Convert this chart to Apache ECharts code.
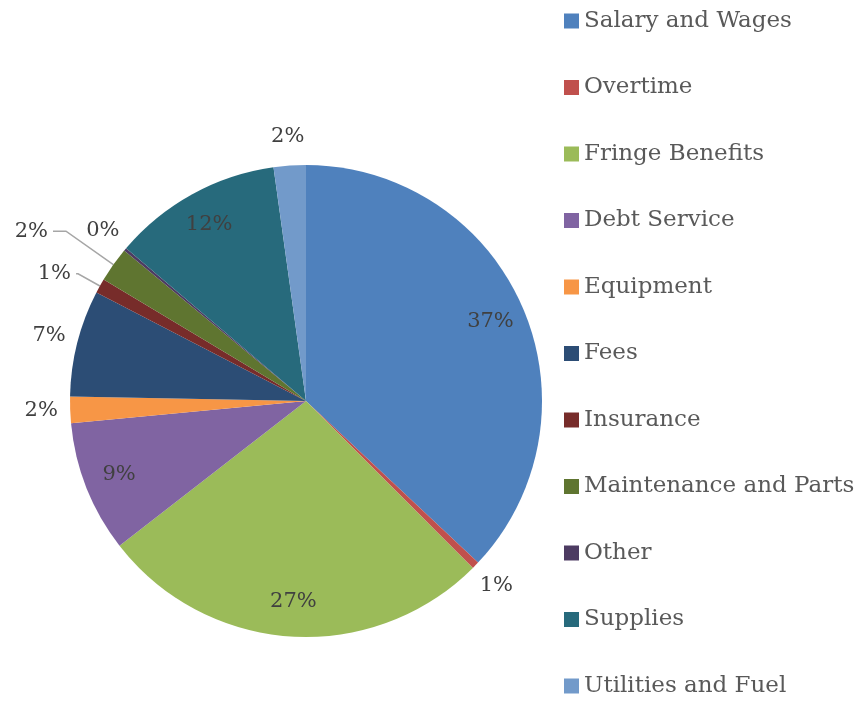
<!DOCTYPE html>
<html>
<head>
<meta charset="utf-8">
<script src="https://cdn.jsdelivr.net/npm/echarts@6/dist/echarts.min.js"></script>
<style>
    html, body { margin: 0; padding: 0; background: #fff; }
    #pieChart { width: 859px; height: 701px; }
</style>
</head>
<body>
<div id="pieChart"></div>
<script>
// share of spending (percent)
const categories = ['Salary and Wages', 'Overtime', 'Fringe Benefits', 'Debt Service', 'Equipment',
    'Fees', 'Insurance', 'Maintenance and Parts', 'Other', 'Supplies', 'Utilities and Fuel'];
const values = [37.0, 0.5, 27.0, 9.0, 1.8, 7.3, 1.0, 2.4, 0.2, 11.6, 2.2];
const colors = ['#4F81BD', '#C0504D', '#9BBB59', '#8064A2', '#F79646',
    '#2C4D75', '#772C2A', '#5F7530', '#4D3B62', '#276A7C', '#729ACA'];
// where each label sits: in = inside slice, out = just outside, line = with leader line
const labelPlace = ['in', 'out', 'in', 'in', 'out', 'out', 'line', 'line', 'out', 'in', 'out'];

const center = [306, 401];
const R = 236;
const labelFont = { fontFamily: 'DejaVu Serif', fontSize: 21, color: '#404040' };
const pct = p => Math.round(p.percent) + '%';

const pieChart = echarts.init(document.getElementById('pieChart'));

// transparent ring used only to carry labels
function labelRing(radius, kind) {
    return {
        type: 'pie',
        radius: radius,
        center: center,
        silent: true,
        avoidLabelOverlap: false,
        itemStyle: { color: 'transparent', borderWidth: 0 },
        labelLine: { show: false },
        emphasis: { disabled: true },
        data: categories.map((name, i) => ({
            name: name,
            value: values[i],
            label: Object.assign({ show: labelPlace[i] === kind, position: 'inside', formatter: pct }, labelFont)
        }))
    };
}

pieChart.setOption({
    backgroundColor: '#fff',
    animation: false,
    legend: {
        orient: 'vertical',
        left: 564,
        top: 9,
        padding: 0,
        height: 692,
        icon: 'rect',
        itemWidth: 15,
        itemHeight: 15,
        itemGap: 42.5,
        data: categories,
        textStyle: {
            fontFamily: 'DejaVu Serif',
            fontSize: 23,
            lineHeight: 24,
            color: '#595959'
        }
    },
    series: [
        {
            name: 'Expenses',
            type: 'pie',
            radius: [0, R],
            center: center,
            startAngle: 90,
            avoidLabelOverlap: false,
            data: categories.map((name, i) => ({
                name: name,
                value: values[i],
                itemStyle: { color: colors[i] },
                label: Object.assign({
                    show: labelPlace[i] === 'line',
                    position: 'outside',
                    formatter: pct,
                    distanceToLabelLine: 5
                }, labelFont),
                labelLine: {
                    show: labelPlace[i] === 'line',
                    length: name === 'Insurance' ? 25 : 58,
                    length2: name === 'Insurance' ? 2 : 13,
                    lineStyle: { color: '#A6A6A6', width: 1.5 }
                }
            })),
            itemStyle: { borderWidth: 0 },
            emphasis: { scale: false }
        },
        labelRing([160, R], 'in'),
        labelRing([R, 288], 'out')
    ]
});
</script>
</body>
</html>
